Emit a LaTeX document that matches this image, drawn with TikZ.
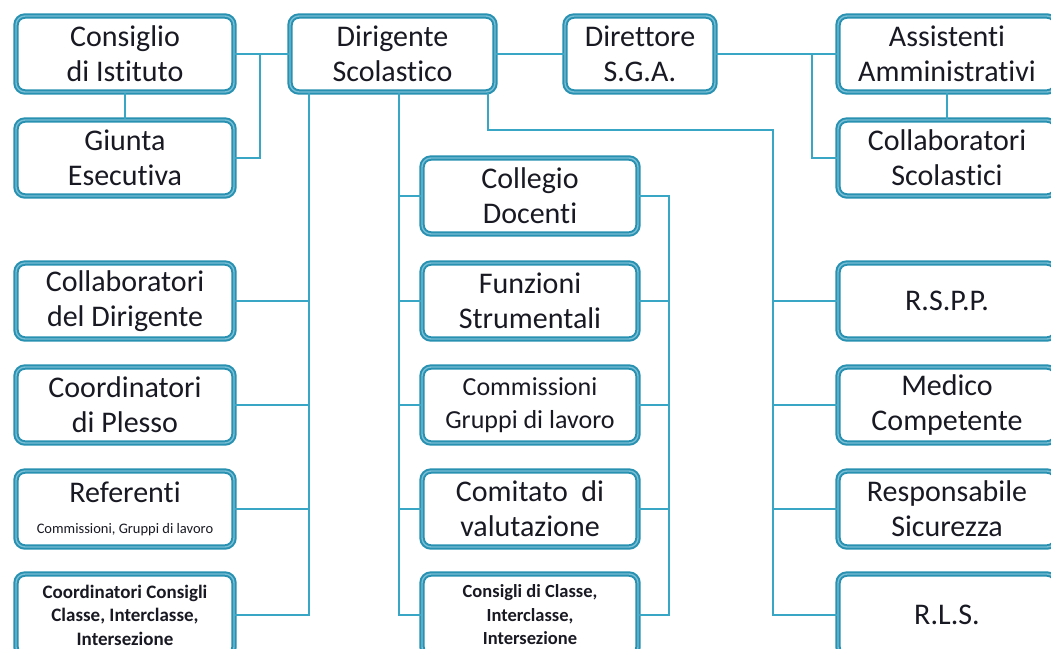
\documentclass[tikz,border=0pt]{standalone}
\usepackage{fontspec}
\setmainfont{Carlito}[Ligatures=CommonOff]
\definecolor{boxc}{RGB}{40,145,178}
\definecolor{boxl}{RGB}{120,190,212}
\definecolor{linec}{RGB}{58,166,198}
\definecolor{txt}{RGB}{25,25,35}
\tikzset{
  box/.style={draw=boxc, line width=2pt, double=boxl, double distance=1.4pt,
    rounded corners=9pt, fill=white, align=center, text=txt, inner sep=0pt,
    minimum height=76pt, font=\fontsize{30}{35}\selectfont},
  lcol/.style={box, minimum width=218pt},
  mcol/.style={box, minimum width=216pt},
  rcol/.style={box, minimum width=218pt},
  lastbox/.style={minimum height=82pt},
  conn/.style={draw=linec, line width=1.3pt}
}
\begin{document}
\begin{tikzpicture}[x=1pt,y=-1pt]
\useasboundingbox (0,0) rectangle (1051,648);
\clip (0,0) rectangle (1051,648);
% bus coordinates
\coordinate (lb) at (309,0);
\coordinate (mb) at (399,0);
\coordinate (mr) at (669,0);
\coordinate (rt) at (488,130);
\coordinate (rb) at (773,130);
\coordinate (cj) at (260,54);
\coordinate (sj) at (812,54);
% top row
\node[lcol] (ci) at (125,54) {Consiglio\\di Istituto};
\node[lcol] (ge) at (125,158) {Giunta\\Esecutiva};
\node[box, minimum width=205pt] (dir) at (392.5,54) {Dirigente\\Scolastico};
\node[box, minimum width=150pt] (dsga) at (640,54) {Direttore\\S.G.A.};
\node[rcol] (aa) at (947,54) {Assistenti\\Amministrativi};
\node[rcol] (cs) at (947,158) {Collaboratori\\Scolastici};
% left column
\node[lcol] (cd) at (125,301) {Collaboratori\\del Dirigente};
\node[lcol] (cp) at (125,405) {Coordinatori\\di Plesso};
\node[lcol] (ref) at (125,509) {Referenti\\[-4pt]{\fontsize{14.5}{16}\selectfont Commissioni, Gruppi di lavoro}};
\node[lcol, lastbox, font=\fontsize{19}{23.5}\selectfont\bfseries] (ccc) at (125,615) {Coordinatori Consigli\\Classe, Interclasse,\\Intersezione};
% middle column
\node[mcol] (cdoc) at (530,196) {Collegio\\Docenti};
\node[mcol] (fs) at (530,301) {Funzioni\\Strumentali};
\node[mcol, font=\fontsize{26}{33}\selectfont] (cgl) at (530,405) {Commissioni\\Gruppi di lavoro};
\node[mcol] (cv) at (530,509) {Comitato~~di\\valutazione};
\node[mcol, lastbox, font=\fontsize{18.5}{23.5}\selectfont\bfseries] (cdc) at (530,615) {Consigli di Classe,\\Interclasse,\\Intersezione};
% right column
\node[rcol] (rspp) at (947,301) {R.S.P.P.};
\node[rcol] (mc) at (947,405) {Medico\\Competente};
\node[rcol] (rs) at (947,509) {Responsabile\\Sicurezza};
\node[rcol, lastbox] (rls) at (947,615) {R.L.S.};
% connectors
\draw[conn] (ci.east) -- (dir.west);
\draw[conn] (cj) |- (ge.east);
\draw[conn] (ci.south) -- (ge.north);
\draw[conn] (dir.east) -- (dsga.west);
\draw[conn] (dsga.east) -- (aa.west);
\draw[conn] (sj) |- (cs.west);
\draw[conn] (aa.south) -- (cs.north);
% left bus
\draw[conn] (dir.south -| lb) |- (ccc.east);
\draw[conn] (lb |- cd.east) -- (cd.east);
\draw[conn] (lb |- cp.east) -- (cp.east);
\draw[conn] (lb |- ref.east) -- (ref.east);
% middle bus
\draw[conn] (dir.south -| mb) |- (cdc.west);
\draw[conn] (mb |- cdoc.west) -- (cdoc.west);
\draw[conn] (mb |- fs.west) -- (fs.west);
\draw[conn] (mb |- cgl.west) -- (cgl.west);
\draw[conn] (mb |- cv.west) -- (cv.west);
% middle right bus
\draw[conn] (cdoc.east) -- (cdoc.east -| mr) |- (cdc.east);
\draw[conn] (mr |- fs.east) -- (fs.east);
\draw[conn] (mr |- cgl.east) -- (cgl.east);
\draw[conn] (mr |- cv.east) -- (cv.east);
% right bus
\draw[conn] (dir.south -| rt) -- (rt) -- (rb) |- (rls.west);
\draw[conn] (rb |- rspp.west) -- (rspp.west);
\draw[conn] (rb |- mc.west) -- (mc.west);
\draw[conn] (rb |- rs.west) -- (rs.west);
\end{tikzpicture}
\end{document}
